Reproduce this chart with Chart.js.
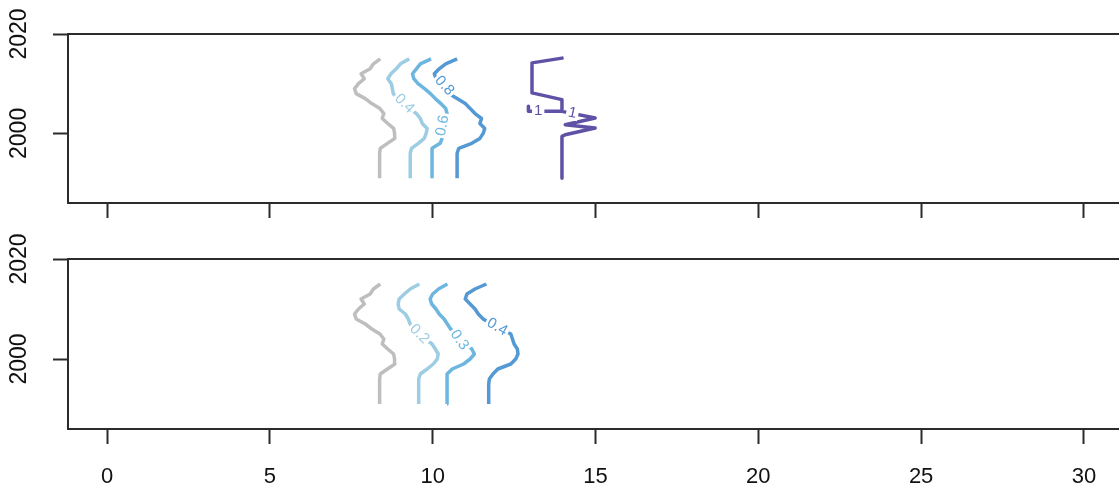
<!DOCTYPE html>
<html><head><meta charset="utf-8">
<script src="https://cdn.jsdelivr.net/npm/chart.js@4/dist/chart.umd.min.js"></script>
<style>
html,body{margin:0;padding:0;background:#fff;overflow:hidden;}
#wrap{position:relative;width:1119px;height:494px;overflow:hidden;background:#fff;}
canvas{position:absolute;left:0;}
#c1{top:0;} #c2{top:230px;}
</style></head><body>
<div id="wrap"><canvas id="c1" width="1130" height="230"></canvas><canvas id="c2" width="1130" height="264"></canvas></div>
<script>
// ---------- data ----------
const years = [1991,1992,1993,1994,1995,1996,1997,1998,1999,2000,2001,2002,2003,2004,2005,2006,2007,2008,2009,2010,2011,2012,2013,2014,2015];
const xTicks = [0,5,10,15,20,25,30];
const yTicks = [2000,2020];

// reference contour (grey), same in both panels
const greyX = [8.37,8.37,8.37,8.37,8.37,8.37,8.39,8.61,8.84,8.83,8.80,8.62,8.45,8.50,8.38,8.13,7.93,7.65,7.60,7.72,7.90,7.80,8.08,8.18,8.39];

// top panel contours
const top04X = [9.31,9.31,9.31,9.31,9.31,9.31,9.35,9.56,9.74,9.80,9.83,9.68,9.62,9.50,9.31,9.10,8.91,8.79,8.76,8.73,8.62,8.72,8.88,9.01,9.28];
const top06X = [9.98,9.98,9.98,9.98,9.98,9.98,9.98,10.23,10.29,10.33,10.37,10.42,10.44,10.44,10.40,10.25,10.08,9.93,9.75,9.55,9.42,9.38,9.50,9.62,9.95];
const top08X = [10.75,10.75,10.75,10.75,10.75,10.75,10.80,11.20,11.45,11.55,11.60,11.45,11.50,11.30,11.15,11.00,10.75,10.50,10.30,10.20,10.10,10.05,10.20,10.40,10.75];
const top1X    = [14.02,13.05,13.05,13.97,13.97,12.94,12.94,12.94,13.97,14.99,14.07,14.99,14.07,13.97,13.97];
const top1Year = [2015.2,2014.19,2008.15,2006.79,2004.44,2004.44,2005.44,2004.44,2004.44,2003.1,2001.75,2001.09,1999.74,1999.4,1991.0];

// bottom panel contours
const bot02X = [9.57,9.57,9.57,9.57,9.57,9.57,9.62,9.83,10.02,10.14,10.17,10.08,9.98,9.77,9.56,9.37,9.31,9.25,9.16,8.97,8.94,8.97,9.13,9.31,9.59];
const bot03X = [10.44,10.44,10.44,10.44,10.44,10.44,10.45,10.60,10.95,11.15,11.28,11.20,11.05,10.85,10.70,10.55,10.45,10.35,10.20,10.10,9.97,9.92,10.00,10.18,10.45];
const bot04X = [11.72,11.72,11.72,11.72,11.72,11.74,11.85,12.00,12.40,12.55,12.62,12.60,12.50,12.45,12.40,12.10,11.80,11.55,11.40,11.30,11.15,11.00,11.05,11.30,11.65];

// contour labels
const topLabels = [
  {text:'0.4', x:9.13,  y:2006.0, angle:45,  color:'#9DCDE3'},
  {text:'0.6', x:10.30, y:2001.6, angle:-80, color:'#6CB6E0'},
  {text:'0.8', x:10.36, y:2009.6, angle:48,  color:'#5499D4'},
  {text:'1',   x:13.24, y:2004.6, angle:0,   color:'#5F52A6'},
  {text:'1',   x:14.29, y:2004.1, angle:12,  color:'#5F52A6'}
];
const botLabels = [
  {text:'0.2', x:9.59,  y:2005.0, angle:45, color:'#9DCDE3'},
  {text:'0.3', x:10.82, y:2003.8, angle:55, color:'#6CB6E0'},
  {text:'0.4', x:11.98, y:2006.4, angle:30, color:'#5499D4'}
];

// ---------- helpers ----------
const FONT = '"Liberation Sans", Arial, sans-serif';
function series(xs, ys, color){
  return {data: xs.map((v,i)=>({x:v, y:ys[i]})), borderColor:color, borderWidth:3.5,
          showLine:true, pointRadius:0, tension:0, fill:false, borderJoinStyle:'round', borderCapStyle:'butt'};
}

const boxPlugin = {
  id:'rbox',
  afterDraw(chart){
    const {ctx, chartArea:a, scales:{y}} = chart;
    ctx.save();
    ctx.strokeStyle = '#2b2b2b'; ctx.lineWidth = 2;
    ctx.strokeRect(a.left, a.top, a.right-a.left, a.bottom-a.top);
    ctx.fillStyle = '#111';
    ctx.font = '23px ' + FONT;
    ctx.textAlign = 'center'; ctx.textBaseline = 'middle';
    y.ticks.forEach(t => {
      const py = y.getPixelForValue(t.value);
      ctx.save(); ctx.translate(19.5, py); ctx.rotate(-Math.PI/2);
      ctx.fillText(String(t.value), 0, 0); ctx.restore();
    });
    ctx.restore();
  }
};
const labelPlugin = {
  id:'contourLabels',
  afterDatasetsDraw(chart, args, opts){
    const {ctx, scales:{x, y}} = chart;
    (opts.items||[]).forEach(l => {
      const px = x.getPixelForValue(l.x), py = y.getPixelForValue(l.y);
      ctx.save();
      ctx.translate(px, py);
      ctx.rotate(l.angle*Math.PI/180);
      ctx.font = '15px ' + FONT;
      const w = ctx.measureText(l.text).width;
      ctx.fillStyle = '#fff';
      ctx.fillRect(-w/2-2, -7, w+4, 14);
      ctx.fillStyle = l.color;
      ctx.textAlign = 'center'; ctx.textBaseline = 'middle';
      ctx.fillText(l.text, 0, 0);
      ctx.restore();
    });
  }
};

function makeChart(id, datasets, labels, showX, padTop, xAxisH){
  return new Chart(document.getElementById(id), {
    type:'scatter',
    data:{datasets},
    plugins:[boxPlugin, labelPlugin],
    options:{
      responsive:false, animation:false, devicePixelRatio:1,
      layout:{padding:{top:padTop, left:0, right:7, bottom:0}},
      plugins:{legend:{display:false}, tooltip:{enabled:false}, contourLabels:{items:labels}},
      scales:{
        x:{type:'linear', min:-1.2, max:31.2,
           afterBuildTicks:s=>{ s.ticks = xTicks.map(v=>({value:v})); },
           afterFit:s=>{ s.height = xAxisH; },
           border:{display:false},
           grid:{drawOnChartArea:false, drawTicks:true, tickLength:15, tickWidth:2, tickColor:'#2b2b2b'},
           ticks:{display:showX, padding:20, color:'#111', font:{family:FONT, size:22}, maxRotation:0, autoSkip:false}},
        y:{type:'linear', min:1986, max:2020,
           afterBuildTicks:s=>{ s.ticks = yTicks.map(v=>({value:v})); },
           afterFit:s=>{ s.width = 68; },
           border:{display:false},
           grid:{drawOnChartArea:false, drawTicks:true, tickLength:15, tickWidth:2, tickColor:'#2b2b2b'},
           ticks:{display:false}}
      }
    }
  });
}

makeChart('c1', [
  series(greyX, years, '#BEBEBE'),
  series(top04X, years, '#9DCDE3'),
  series(top06X, years, '#6CB6E0'),
  series(top08X, years, '#5499D4'),
  series(top1X, top1Year, '#5F52A6')
], topLabels, false, 34, 27);

makeChart('c2', [
  series(greyX, years, '#BEBEBE'),
  series(bot02X, years, '#9DCDE3'),
  series(bot03X, years, '#6CB6E0'),
  series(bot04X, years, '#5499D4')
], botLabels, true, 29, 65);
</script>
</body></html>
